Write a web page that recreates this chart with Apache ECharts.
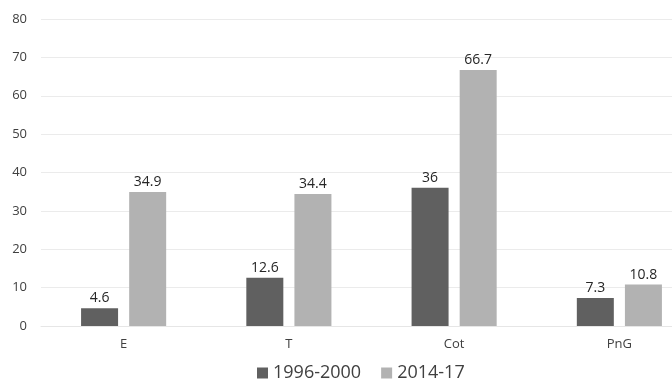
<!DOCTYPE html>
<html><head><meta charset="utf-8">
<script src="https://cdn.jsdelivr.net/npm/echarts@6/dist/echarts.min.js"></script>
<style>html,body{margin:0;padding:0;background:#fff}#c{width:672px;height:388px}</style>
</head><body><div id="c"></div>
<script>
const categories = ['E', 'T', 'Cot', 'PnG'];
const series1996 = [4.6, 12.6, 36, 7.3];
const series2014 = [34.9, 34.4, 66.7, 10.8];
const seriesNames = ['1996-2000', '2014-17'];

const chart = echarts.init(document.getElementById('c'));
const font = '"Open Sans", "Liberation Sans", sans-serif';
const lbl = {show: true, position: 'top', distance: 3, color: '#262626', fontSize: 14, fontFamily: font};
chart.setOption({
  animation: false,
  grid: {left: 41, width: 661, top: 19, bottom: 62, containLabel: false, outerBoundsMode: 'none'},
  legend: {
    data: seriesNames, bottom: 1, left: 252, itemWidth: 11, itemHeight: 11, itemGap: 20,
    icon: 'rect', textStyle: {fontSize: 18, color: '#404040', fontFamily: font}
  },
  xAxis: {
    type: 'category', data: categories,
    axisLine: {show: true, lineStyle: {color: '#e6e6e6'}}, axisTick: {show: false},
    axisLabel: {color: '#404040', fontSize: 13, fontFamily: font, margin: 12}
  },
  yAxis: {
    type: 'value', min: 0, max: 80, interval: 10,
    axisLine: {show: false}, axisTick: {show: false},
    splitLine: {lineStyle: {color: '#ebebeb'}},
    axisLabel: {color: '#404040', fontSize: 13, fontFamily: font, margin: 14}
  },
  series: [
    {name: seriesNames[0], type: 'bar', data: series1996, barWidth: 37, barGap: '30%',
     itemStyle: {color: '#606060'}, label: lbl},
    {name: seriesNames[1], type: 'bar', data: series2014, barWidth: 37,
     itemStyle: {color: '#b2b2b2'}, label: lbl}
  ]
});
</script></body></html>
